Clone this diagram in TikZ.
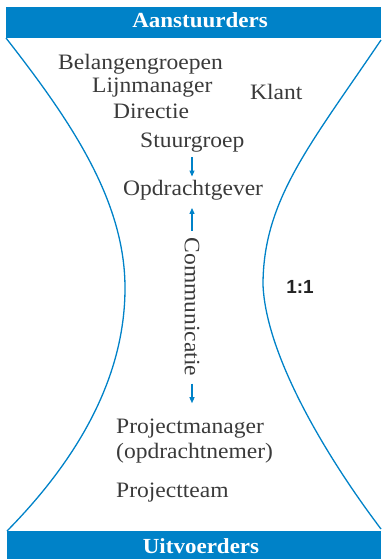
\documentclass[tikz,border=0pt]{standalone}
\usepackage{fontspec}
\setmainfont[FakeStretch=1.07]{Liberation Serif}
\newfontfamily\onefont{Liberation Sans}
\usetikzlibrary{arrows.meta}
\definecolor{barblue}{RGB}{0,130,200}
\definecolor{txtgrey}{RGB}{58,58,58}
\definecolor{darktxt}{RGB}{35,35,35}
\tikzset{
  lbl/.style={font=\fontsize{22}{26}\selectfont, text=txtgrey, inner xsep=0pt, inner ysep=3pt, anchor=base west},
  head/.style={font=\fontsize{21.5}{26}\selectfont\bfseries, text=white, inner sep=0pt, anchor=base},
  bar/.style={fill=barblue},
  edge/.style={draw=barblue, line width=1.3pt},
  arr/.style={draw=barblue, line width=1.2pt, -{Triangle[length=6pt,width=5pt]}},
}
\begin{document}
\begin{tikzpicture}[x=1pt,y=-1pt]
\useasboundingbox (0,0) rectangle (381,559);
% bars
\fill[bar] (6,7) rectangle (381,38);
\fill[bar] (7,531) rectangle (381,559);
\node[head] (aan) at (200,28) {Aanstuurders};
\node[head] (uit) at (201,553) {Uitvoerders};
% hourglass sides
\draw[edge] (6,38) .. controls (70,120) and (125,200) .. (125,288)
                   .. controls (125,380) and (75,462) .. (7,531);
\draw[edge] (381,40) .. controls (310,145) and (263,200) .. (263,285)
                   .. controls (266,355) and (325,455) .. (381,529);
% texts
\node[lbl] (bel) at (58,70) {Belangengroepen};
\node[lbl] (lijn) at (92,93) {Lijnmanager};
\node[lbl] (dir) at (113,118) {Directie};
\node[lbl] (klant) at (250,100) {Klant};
\node[lbl] (stuur) at (140,147) {Stuurgroep};
\node[lbl] (opdr) at (123,195) {Opdrachtgever};
\node[lbl] (pm1) at (116,433) {Projectmanager};
\node[lbl] (pm2) at (116,458) {(opdrachtnemer)};
\node[lbl] (team) at (116,497) {Projectteam};
\node[font=\fontsize{22}{26}\selectfont, text=txtgrey, rotate=-90, inner xsep=7pt, inner ysep=2pt] (comm) at (192,307) {Communicatie};
\node[font=\onefont\fontsize{19}{22}\selectfont\bfseries, text=darktxt, anchor=base, inner sep=0pt] (ratio) at (300,293) {1:1};
% arrows
\coordinate (s1) at (192,0 |- stuur.south);
\coordinate (s2) at (192,0 |- opdr.north);
\draw[arr, shorten <=2pt] (s1) -- (s2);
\coordinate (o1) at (192,0 |- opdr.south);
\draw[arr, shorten >=5pt] (comm.west) -- (o1);
\coordinate (p1) at (192,0 |- pm1.north);
\draw[arr, shorten >=12pt] (comm.east) -- (p1);
\end{tikzpicture}
\end{document}
